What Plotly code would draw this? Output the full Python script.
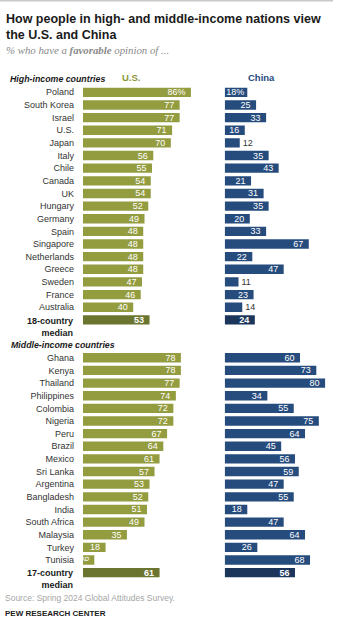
import plotly.graph_objects as go

# ---------------- data ----------------
high_countries = ["Poland", "South Korea", "Israel", "U.S.", "Japan", "Italy", "Chile", "Canada",
                  "UK", "Hungary", "Germany", "Spain", "Singapore", "Netherlands", "Greece",
                  "Sweden", "France", "Australia"]
high_us = [86, 77, 77, 71, 70, 56, 55, 54, 54, 52, 49, 48, 48, 48, 48, 47, 46, 40]
high_china = [18, 25, 33, 16, 12, 35, 43, 21, 31, 35, 20, 33, 67, 22, 47, 11, 23, 14]
high_median_us = 53
high_median_china = 24

mid_countries = ["Ghana", "Kenya", "Thailand", "Philippines", "Colombia", "Nigeria", "Peru",
                 "Brazil", "Mexico", "Sri Lanka", "Argentina", "Bangladesh", "India",
                 "South Africa", "Malaysia", "Turkey", "Tunisia"]
mid_us = [78, 78, 77, 74, 72, 72, 67, 64, 61, 57, 53, 52, 51, 49, 35, 18, 9]
mid_china = [60, 73, 80, 34, 55, 75, 64, 45, 56, 59, 47, 55, 18, 47, 64, 26, 68]
mid_median_us = 61
mid_median_china = 56

# ---------------- styling ----------------
FONT = "Liberation Sans"
US_C = "#949c40"
US_MED = "#6b7530"
CN_C = "#264b7d"
CN_MED = "#1b355b"
W, H = 351, 630
T, B = 86, 51
PLOT_H = H - T - B
VAL_SIZE = 9

n_high = len(high_countries)
y_high = list(range(n_high))
y_high_med = n_high
y_mid_header = n_high + 2
y_mid = [n_high + 3 + i for i in range(len(mid_countries))]
y_mid_med = y_mid[-1] + 1

countries = high_countries + mid_countries
us_vals = high_us + mid_us
cn_vals = high_china + mid_china
y_rows = y_high + y_mid

NB = "\u00a0"


def labels(vals):
    return [f"{v}%" if i == 0 else str(v) for i, v in enumerate(vals)]


def positions(vals, thresh):
    return ["outside" if v < thresh else "inside" for v in vals]


us_txt = labels(us_vals)
cn_txt = labels(cn_vals)
us_pos = positions(us_vals, 5)
cn_pos = positions(cn_vals, 15)
# trailing pad for inside labels (not for the short first China bar)
us_txt = [t + NB if p == "inside" else t for t, p in zip(us_txt, us_pos)]
cn_txt = [t + NB if (p == "inside" and i != 0) else t
          for i, (t, p) in enumerate(zip(cn_txt, cn_pos))]

fig = go.Figure()

common = dict(orientation="h", width=0.74, constraintext="none", cliponaxis=False,
              insidetextanchor="end", hoverinfo="skip", marker_line_width=0)

fig.add_trace(go.Bar(x=us_vals, y=y_rows, text=us_txt, textposition=us_pos,
                     insidetextfont=dict(color="white", size=VAL_SIZE, family=FONT),
                     outsidetextfont=dict(color="#333333", size=VAL_SIZE, family=FONT),
                     marker_color=US_C, xaxis="x", yaxis="y", **common))
fig.add_trace(go.Bar(x=cn_vals, y=y_rows, text=cn_txt, textposition=cn_pos,
                     insidetextfont=dict(color="white", size=VAL_SIZE, family=FONT),
                     outsidetextfont=dict(color="#333333", size=VAL_SIZE, family=FONT),
                     marker_color=CN_C, xaxis="x2", yaxis="y", **common))

med_y = [y_high_med, y_mid_med]
med_us = [high_median_us, mid_median_us]
med_cn = [high_median_china, mid_median_china]
fig.add_trace(go.Bar(x=med_us, y=med_y, text=[f"<b>{v}</b>" + NB for v in med_us],
                     textposition="inside",
                     insidetextfont=dict(color="white", size=VAL_SIZE, family=FONT),
                     marker_color=US_MED, xaxis="x", yaxis="y", **common))
fig.add_trace(go.Bar(x=med_cn, y=med_y, text=[f"<b>{v}</b>" + NB for v in med_cn],
                     textposition="inside",
                     insidetextfont=dict(color="white", size=VAL_SIZE, family=FONT),
                     marker_color=CN_MED, xaxis="x2", yaxis="y", **common))


def px_x(p):
    return p / W


def px_y(p):
    return 1 - (p - T) / PLOT_H


US_X0 = 83
CN_X0 = 224.7
PPU = 1.255
RANGE = 100

fig.update_layout(
    width=W, height=H,
    margin=dict(l=0, r=0, t=T, b=B, pad=0),
    paper_bgcolor="white", plot_bgcolor="white",
    showlegend=False, barmode="overlay",
    font=dict(family=FONT, color="#333333", size=9),
    xaxis=dict(domain=[px_x(US_X0), px_x(US_X0 + PPU * RANGE)], range=[0, RANGE],
               visible=False, fixedrange=True),
    xaxis2=dict(domain=[px_x(CN_X0), px_x(CN_X0 + PPU * RANGE)], range=[0, RANGE],
                visible=False, anchor="y", fixedrange=True),
    yaxis=dict(range=[y_mid_med + 0.5, -0.5], tickvals=y_rows, ticktext=countries,
               showgrid=False, zeroline=False, showline=False, ticks="",
               ticklabelstandoff=8, tickfont=dict(size=9, color="#333333", family=FONT),
               fixedrange=True),
)

ann = []
# title
ann.append(dict(text="<b>How people in high- and middle-income nations view<br>the U.S. and China</b>",
                xref="paper", yref="paper", x=px_x(4), y=px_y(10), xanchor="left", yanchor="top",
                align="left", showarrow=False,
                font=dict(size=12.5, color="#1a1a1a", family=FONT)))
ann.append(dict(text="<i>% who have a <b>favorable</b> opinion of ...</i>",
                xref="paper", yref="paper", x=px_x(4), y=px_y(50.5), xanchor="left", yanchor="middle",
                showarrow=False, font=dict(size=10.8, color="#8a8a8a", family="Liberation Serif")))
# group headers
ann.append(dict(text="<b><i>High-income countries</i></b>", xref="paper", yref="paper",
                x=px_x(8), y=px_y(79), xanchor="left", yanchor="middle", showarrow=False,
                font=dict(size=8.8, color="#1a1a1a", family=FONT)))
ann.append(dict(text="<b><i>Middle-income countries</i></b>", xref="paper", yref="y",
                x=px_x(9), y=y_mid_header - 0.05, xanchor="left", yanchor="middle", showarrow=False,
                font=dict(size=8.8, color="#1a1a1a", family=FONT)))
# series labels
ann.append(dict(text="<b>U.S.</b>", xref="paper", yref="paper", x=px_x(131), y=px_y(77.5),
                xanchor="center", yanchor="middle", showarrow=False,
                font=dict(size=9.5, color="#8c963a", family=FONT)))
ann.append(dict(text="<b>China</b>", xref="paper", yref="paper", x=px_x(261.5), y=px_y(77.5),
                xanchor="center", yanchor="middle", showarrow=False,
                font=dict(size=9.5, color=CN_C, family=FONT)))
# median labels
ann.append(dict(text="<b>18-country<br>median</b>", xref="paper", yref="y", x=px_x(75),
                y=y_high_med - 0.5, xanchor="right", yanchor="top", align="right", showarrow=False,
                font=dict(size=9, color="#1a1a1a", family=FONT)))
ann.append(dict(text="<b>17-country<br>median</b>", xref="paper", yref="y", x=px_x(75),
                y=y_mid_med - 0.5, xanchor="right", yanchor="top", align="right", showarrow=False,
                font=dict(size=9, color="#1a1a1a", family=FONT)))
# footer
ann.append(dict(text="Source: Spring 2024 Global Attitudes Survey.", xref="paper", yref="paper",
                x=px_x(3), y=px_y(598), xanchor="left", yanchor="middle", showarrow=False,
                font=dict(size=8.5, color="#a6a6a6", family=FONT)))
ann.append(dict(text="<b>PEW RESEARCH CENTER</b>", xref="paper", yref="paper",
                x=px_x(3), y=px_y(613), xanchor="left", yanchor="middle", showarrow=False,
                font=dict(size=8, color="#222222", family=FONT)))
fig.update_layout(annotations=ann)

fig.add_shape(type="line", xref="paper", yref="paper", x0=0, x1=px_x(333),
              y0=px_y(0.8), y1=px_y(0.8), line=dict(color="#c8c8c8", width=1.5))

fig.write_html("out.html")
